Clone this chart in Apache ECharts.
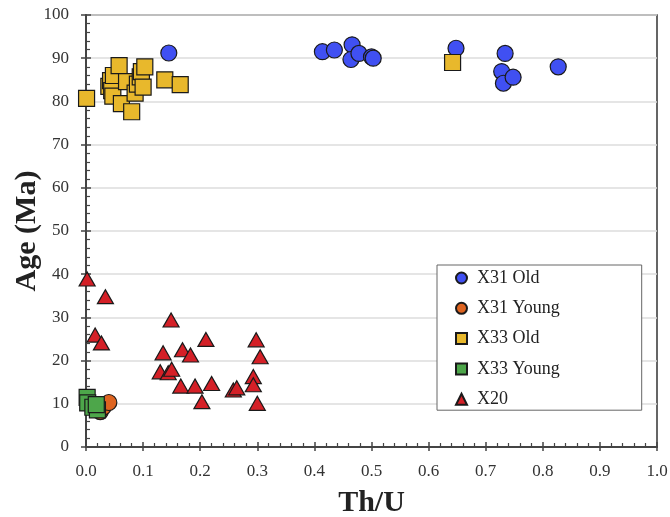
<!DOCTYPE html>
<html>
<head>
<meta charset="utf-8">
<script src="https://cdn.jsdelivr.net/npm/echarts@6/dist/echarts.min.js"></script>
<style>
html,body{margin:0;padding:0;background:#fff;}
#chart{width:670px;height:517px;}
</style>
</head>
<body>
<div id="chart"></div>
<script>
// Th/U vs Age (Ma)
const x31Old = [[0.145,91.2],[0.414,91.5],[0.435,91.9],[0.466,93.1],[0.464,89.7],[0.478,91.1],[0.500,90.3],[0.503,90.0],[0.648,92.3],[0.734,91.1],[0.728,86.9],[0.731,84.2],[0.748,85.6],[0.827,88.0]];
const x31Young = [[0.025,8.2],[0.030,9.2],[0.040,10.3]];
const x33Old = [[0.001,80.7],[0.040,83.5],[0.043,84.8],[0.045,82.5],[0.048,86.0],[0.047,81.2],[0.058,88.3],[0.062,79.5],[0.071,84.6],[0.080,77.6],[0.086,81.9],[0.090,84.0],[0.095,85.7],[0.097,86.9],[0.100,83.3],[0.103,88.0],[0.138,85.0],[0.165,83.9],[0.642,89.0]];
const x33Young = [[0.002,11.5],[0.003,10.2],[0.012,9.2],[0.020,8.6],[0.018,9.8]];
const x20 = [[0.002,38.9],[0.034,34.8],[0.016,25.9],[0.027,24.1],[0.149,29.4],[0.135,21.8],[0.130,17.4],[0.144,17.2],[0.150,18.0],[0.169,22.5],[0.183,21.3],[0.166,14.1],[0.191,14.1],[0.210,24.9],[0.220,14.7],[0.203,10.5],[0.258,13.2],[0.264,13.7],[0.298,24.8],[0.305,20.9],[0.293,16.3],[0.293,14.4],[0.300,10.1]];
const seriesNames = ['X31 Old','X31 Young','X33 Old','X33 Young','X20'];
const xTicks = {min:0, max:1, interval:0.1};
const yTicks = {min:0, max:100, interval:10};

const serif = '"Liberation Serif","Times New Roman",serif';
const chart = echarts.init(document.getElementById('chart'), null, {renderer:'canvas'});

function mkSeries(name, data, symbol, size, color){
  return {
    name, type:'scatter', data, symbol, symbolSize:size,
    xAxisIndex:0, yAxisIndex:0,
    itemStyle:{color, borderColor:'#1a1a1a', borderWidth:1.2, opacity:1},
    emphasis:{disabled:true}
  };
}

chart.setOption({
  animation:false,
  backgroundColor:'#fff',
  grid:{left:86, right:13, top:15, bottom:70, containLabel:false, outerBoundsMode:'none',
        show:true, borderColor:'#333', borderWidth:1.5, backgroundColor:'transparent'},
  legend:{
    orient:'vertical', left:437, top:265,
    backgroundColor:'#fff', borderColor:'#666', borderWidth:1,
    padding:[4,82,2,18], itemGap:12.3, itemWidth:11, itemHeight:11,
    textStyle:{fontFamily:serif, fontSize:18, color:'#222', padding:[0,0,0,5]},
    data:seriesNames
  },
  xAxis:[{
    type:'value', min:xTicks.min, max:xTicks.max, interval:xTicks.interval,
    name:'Th/U', nameLocation:'middle', nameGap:41,
    nameTextStyle:{fontFamily:serif, fontSize:30, fontWeight:'bold', color:'#222'},
    axisLine:{show:true, onZero:false, lineStyle:{color:'#444', width:2}},
    axisTick:{show:true, inside:true, length:5, lineStyle:{color:'#444', width:1.5}},
    minorTick:{show:true, splitNumber:5, length:4, lineStyle:{color:'#444', width:1.2}},
    axisLabel:{fontFamily:serif, fontSize:17, color:'#333', margin:16, formatter:v=>v.toFixed(1)},
    splitLine:{show:false}
  },{
    type:'value', min:xTicks.min, max:xTicks.max, interval:xTicks.interval, position:'bottom',
    axisLine:{show:false}, axisLabel:{show:false}, splitLine:{show:false},
    axisTick:{show:true, inside:false, length:4, lineStyle:{color:'#444', width:1.5}}
  }],
  yAxis:[{
    type:'value', min:yTicks.min, max:yTicks.max, interval:yTicks.interval,
    name:'Age (Ma)', nameLocation:'middle', nameGap:44, nameRotate:90, nameMoveOverlap:false,
    nameTextStyle:{fontFamily:serif, fontSize:30, fontWeight:'bold', color:'#222'},
    axisLine:{show:true, onZero:false, lineStyle:{color:'#444', width:2}},
    axisTick:{show:true, inside:true, length:5, lineStyle:{color:'#444', width:1.5}},
    minorTick:{show:true, splitNumber:5, length:4, lineStyle:{color:'#444', width:1.2}},
    axisLabel:{fontFamily:serif, fontSize:17, color:'#333', margin:17},
    splitLine:{show:true, lineStyle:{color:'#dcdcdc', width:1.5}}
  },{
    type:'value', min:yTicks.min, max:yTicks.max, interval:yTicks.interval, position:'left',
    axisLine:{show:false}, axisLabel:{show:false}, splitLine:{show:false},
    axisTick:{show:true, inside:false, length:5, lineStyle:{color:'#444', width:1.5}}
  }],
  series:[
    mkSeries(seriesNames[0], x31Old, 'circle', 16, '#4050F2'),
    mkSeries(seriesNames[1], x31Young, 'circle', 16, '#DE6420'),
    mkSeries(seriesNames[2], x33Old, 'rect', 16, '#E8B82C'),
    mkSeries(seriesNames[3], x33Young, 'rect', 16, '#4DA64A'),
    mkSeries(seriesNames[4], x20, 'triangle', [16,14], '#D42027')
  ]
});
</script>
</body>
</html>
